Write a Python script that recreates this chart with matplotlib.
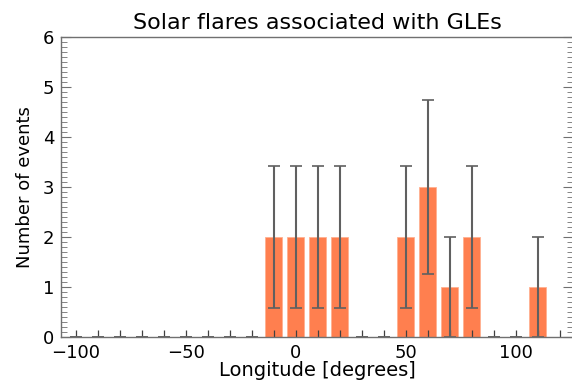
import numpy as np
import matplotlib.pyplot as plt
from matplotlib.ticker import MultipleLocator

# longitude bins (degrees) and number of GLE-associated flares in each
longitude = np.arange(-100, 120, 10)
counts = np.array([0, 0, 0, 0, 0, 0, 0, 0, 0, 2, 2, 2, 2, 0, 0, 2, 3, 1, 2, 0, 0, 1])
# Poisson uncertainty
errors = np.sqrt(counts)

BAR_COLOR = '#ff7f4f'
AXIS_COLOR = '#707070'

fig = plt.figure(figsize=(5.72, 3.92), dpi=100)
ax = fig.add_axes([0.107, 0.140, 0.895, 0.766])

ax.bar(longitude, counts, width=7.7, color=BAR_COLOR, edgecolor='#ffb090', linewidth=0.6)
ax.errorbar(longitude, counts, yerr=errors, fmt='none', ecolor='#606060',
            elinewidth=1.5, capsize=4, capthick=1.2)

ax.set_xlim(-106.5, 126)
ax.set_ylim(0, 6)
ax.xaxis.set_major_locator(MultipleLocator(50))
ax.xaxis.set_minor_locator(MultipleLocator(10))
ax.yaxis.set_major_locator(MultipleLocator(1))
ax.yaxis.set_minor_locator(MultipleLocator(0.1))

ax.tick_params(axis='x', which='both', direction='in', length=5, width=0.9,
               color='#404040', top=False, labelsize=13, pad=5)
ax.tick_params(axis='y', which='major', direction='in', length=7, width=0.8,
               color=AXIS_COLOR, right=True, labelsize=13, pad=5)
ax.tick_params(axis='y', which='minor', direction='in', length=4, width=0.6,
               color=AXIS_COLOR, right=True)
for s in ax.spines.values():
    s.set_color(AXIS_COLOR)
    s.set_linewidth(1.0)

ax.set_title('Solar flares associated with GLEs', fontsize=16, pad=6)
ax.set_xlabel('Longitude [degrees]', fontsize=14, labelpad=-1)
ax.set_ylabel('Number of events', fontsize=13, labelpad=6)

fig.savefig('out.png', dpi=100)
